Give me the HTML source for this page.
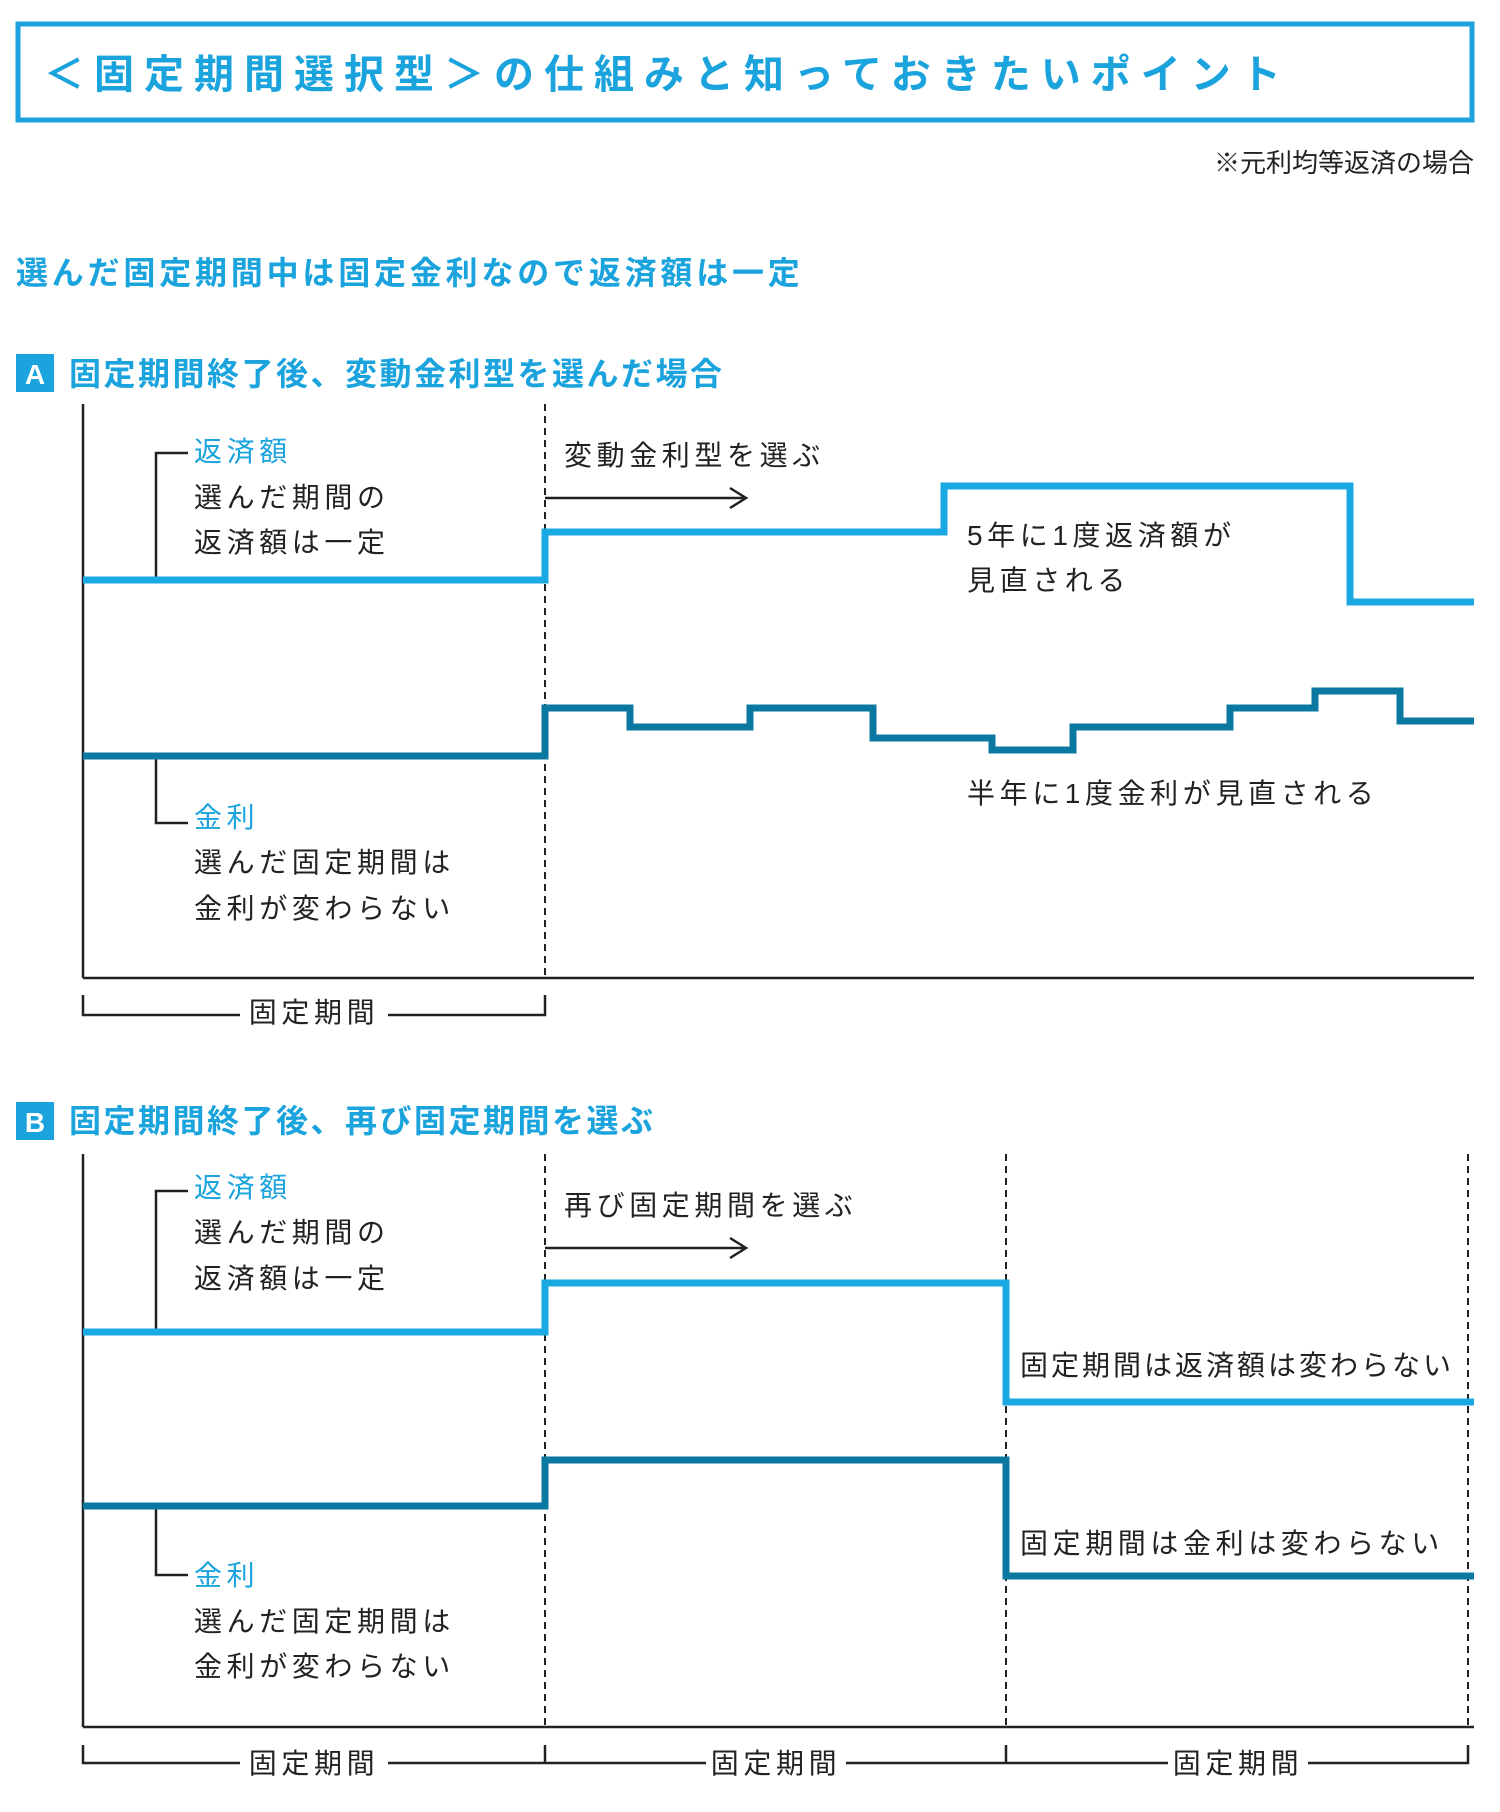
<!DOCTYPE html>
<html><head><meta charset="utf-8"><style>
body{margin:0;background:#fff;}
svg{display:block;}
text{font-family:"Liberation Sans","Noto Sans CJK JP",sans-serif;}
.t{font-size:28px;fill:#222;letter-spacing:4.6px;}
.b{font-size:28px;fill:#1aa3dc;letter-spacing:4.6px;}
.h{font-size:32px;fill:#1aa3dc;font-weight:bold;letter-spacing:3.8px;}
</style></head><body>
<svg width="1500" height="1812" viewBox="0 0 1500 1812" xmlns="http://www.w3.org/2000/svg">
<rect x="18" y="24" width="1454" height="96" fill="none" stroke="#1aa3dc" stroke-width="5"/>
<text x="44" y="88" style="font-size:40px;fill:#1aa3dc;font-weight:bold;letter-spacing:10px">＜固定期間選択型＞の仕組みと知っておきたいポイント</text>
<text x="1474" y="172" text-anchor="end" style="font-size:26px;fill:#222">※元利均等返済の場合</text>
<text x="16" y="284" class="h">選んだ固定期間中は固定金利なので返済額は一定</text>

<!-- A -->
<rect x="16" y="354" width="38" height="38" fill="#1aa3dc"/>
<text x="35" y="384" text-anchor="middle" style="font-size:28px;fill:#fff;font-weight:bold">A</text>
<text x="69" y="385" class="h" style="letter-spacing:2.5px">固定期間終了後、変動金利型を選んだ場合</text>
<g stroke="#222" stroke-width="2.5" fill="none">
<line x1="83" y1="404" x2="83" y2="978"/>
<line x1="83" y1="978" x2="1474" y2="978"/>
<polyline points="156,580 156,453 188,453"/>
<polyline points="156,756 156,823 188,823"/>
<polyline points="83,995 83,1015 240,1015"/>
<polyline points="388,1015 545,1015 545,995"/>
<line x1="545" y1="498" x2="746" y2="498"/>
<polyline points="730,488 746,498 730,508"/>
</g>
<line x1="545" y1="404" x2="545" y2="978" stroke="#222" stroke-width="2" stroke-dasharray="7,5"/>
<polyline points="83,580 545,580 545,532 944,532 944,486 1350,486 1350,602 1474,602" fill="none" stroke="#1aa9e3" stroke-width="7"/>
<polyline points="83,756 545,756 545,708 630,708 630,727 750,727 750,708 873,708 873,738 992,738 992,750 1073,750 1073,727 1230,727 1230,708 1315,708 1315,691 1400,691 1400,721 1474,721" fill="none" stroke="#0a78a0" stroke-width="7"/>
<text x="194" y="461" class="b">返済額</text>
<text x="194" y="507" class="t">選んだ期間の</text>
<text x="194" y="552" class="t">返済額は一定</text>
<text x="194" y="827" class="b">金利</text>
<text x="194" y="872" class="t">選んだ固定期間は</text>
<text x="194" y="918" class="t">金利が変わらない</text>
<text x="564" y="465" class="t">変動金利型を選ぶ</text>
<text x="967" y="545" class="t">5年に1度返済額が</text>
<text x="967" y="590" class="t">見直される</text>
<text x="967" y="803" class="t">半年に1度金利が見直される</text>
<text x="314" y="1022" text-anchor="middle" class="t">固定期間</text>

<!-- B -->
<rect x="16" y="1102" width="38" height="38" fill="#1aa3dc"/>
<text x="35" y="1132" text-anchor="middle" style="font-size:28px;fill:#fff;font-weight:bold">B</text>
<text x="69" y="1132" class="h" style="letter-spacing:2.5px">固定期間終了後、再び固定期間を選ぶ</text>
<g stroke="#222" stroke-width="2.5" fill="none">
<line x1="83" y1="1154" x2="83" y2="1727"/>
<line x1="83" y1="1727" x2="1474" y2="1727"/>
<polyline points="156,1332 156,1191 188,1191"/>
<polyline points="156,1506 156,1575 188,1575"/>
<polyline points="83,1745 83,1763 240,1763"/>
<polyline points="388,1763 706,1763"/>
<polyline points="846,1763 1168,1763"/>
<polyline points="1308,1763 1468,1763 1468,1745"/>
<line x1="545" y1="1745" x2="545" y2="1763"/>
<line x1="1006" y1="1745" x2="1006" y2="1763"/>
<line x1="545" y1="1248" x2="746" y2="1248"/>
<polyline points="730,1238 746,1248 730,1258"/>
</g>
<g stroke="#222" stroke-width="2" stroke-dasharray="7,5">
<line x1="545" y1="1154" x2="545" y2="1727"/>
<line x1="1006" y1="1154" x2="1006" y2="1727"/>
<line x1="1468" y1="1154" x2="1468" y2="1727"/>
</g>
<polyline points="83,1332 545,1332 545,1283 1006,1283 1006,1402 1474,1402" fill="none" stroke="#1aa9e3" stroke-width="7"/>
<polyline points="83,1506 545,1506 545,1460 1006,1460 1006,1576 1474,1576" fill="none" stroke="#0a78a0" stroke-width="7"/>
<text x="194" y="1197" class="b">返済額</text>
<text x="194" y="1242" class="t">選んだ期間の</text>
<text x="194" y="1288" class="t">返済額は一定</text>
<text x="194" y="1585" class="b">金利</text>
<text x="194" y="1631" class="t">選んだ固定期間は</text>
<text x="194" y="1676" class="t">金利が変わらない</text>
<text x="564" y="1215" class="t">再び固定期間を選ぶ</text>
<text x="1020" y="1375" class="t" style="letter-spacing:3px">固定期間は返済額は変わらない</text>
<text x="1020" y="1553" class="t">固定期間は金利は変わらない</text>
<text x="314" y="1773" text-anchor="middle" class="t">固定期間</text>
<text x="776" y="1773" text-anchor="middle" class="t">固定期間</text>
<text x="1238" y="1773" text-anchor="middle" class="t">固定期間</text>
</svg>
</body></html>
